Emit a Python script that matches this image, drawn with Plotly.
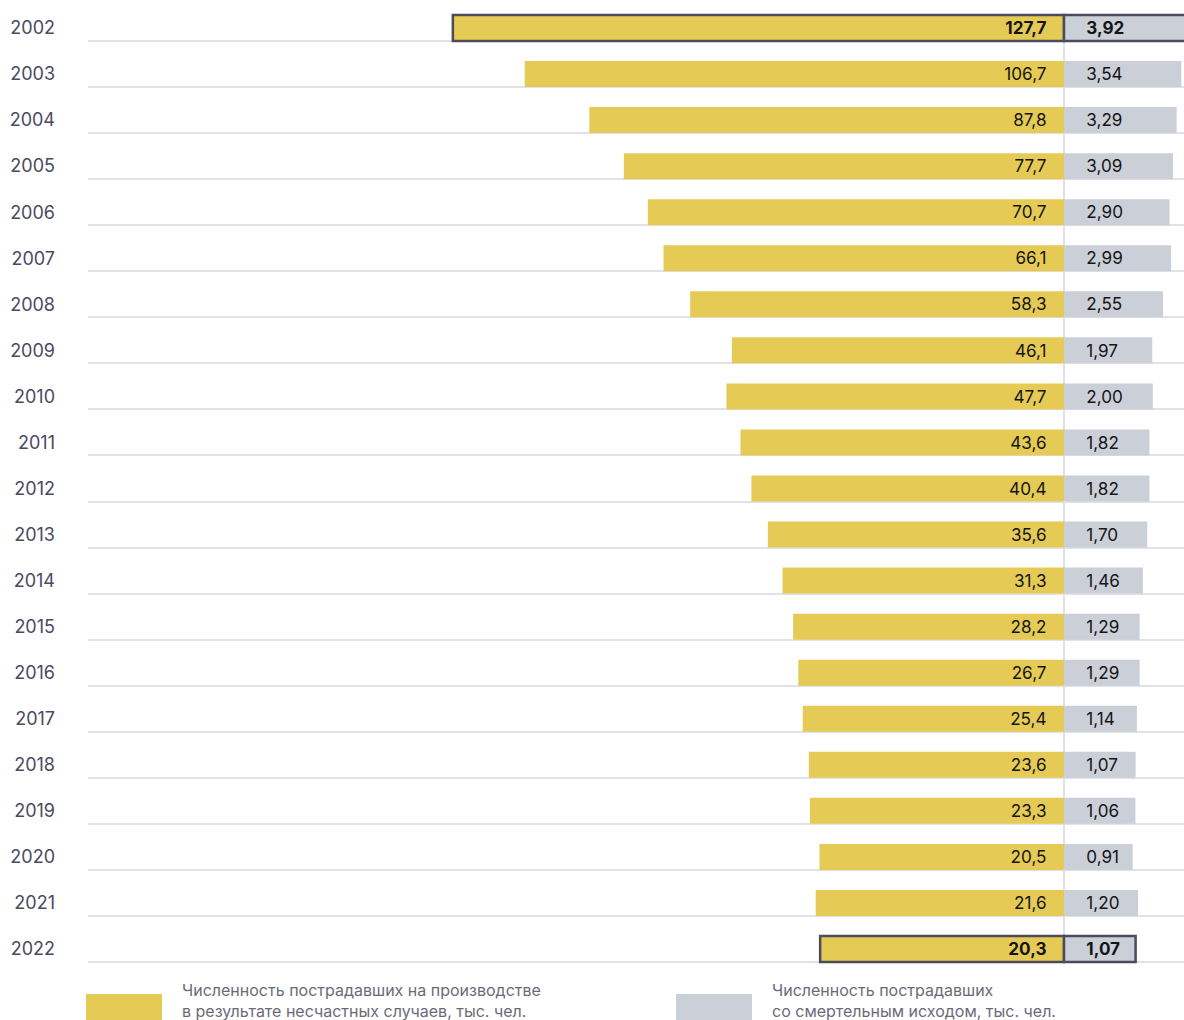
import plotly.graph_objects as go

years = [str(y) for y in range(2002, 2023)]
injured = [127.7, 106.7, 87.8, 77.7, 70.7, 66.1, 58.3, 46.1, 47.7, 43.6, 40.4,
           35.6, 31.3, 28.2, 26.7, 25.4, 23.6, 23.3, 20.5, 21.6, 20.3]
fatal = [3.92, 3.54, 3.29, 3.09, 2.90, 2.99, 2.55, 1.97, 2.00, 1.82, 1.82,
         1.70, 1.46, 1.29, 1.29, 1.14, 1.07, 1.06, 0.91, 1.20, 1.07]
highlight = ["2002", "2022"]

legend_injured = "Численность пострадавших на производстве<br>в результате несчастных случаев, тыс. чел."
legend_fatal = "Численность пострадавших<br>со смертельным исходом, тыс. чел."

W, H = 1184, 1020
FONT = "Inter"
YELLOW = "#E5CB55"
GREY = "#CBCFD8"
BORDER = "#4B4B5C"

# visual base offsets (bars grow away from a common divider, as in the original infographic)
base_inj = -51
base_fat = -2.8
k_inj = 3.42   # px per unit
k_fat = 18.5
x_left_px, x_div_px, x_right_px = 88, 1064, 1184

range_inj = [base_inj + (x_div_px - x_left_px) / k_inj, base_inj - (x_right_px - x_div_px) / k_inj]
range_fat = [base_fat - (x_div_px - x_left_px) / k_fat, base_fat + (x_right_px - x_div_px) / k_fat]

def fmt(v, d, b):
    s = f"{v:.{d}f}".replace(".", ",")
    return f"<b>{s}</b>" if b else s

bold = [y in highlight for y in years]
txt_inj = [fmt(v, 1, b) + "\u00a0\u00a0\u00a0" for v, b in zip(injured, bold)]
txt_fat = ["\u00a0\u00a0\u00a0\u00a0" + fmt(v, 2, b) for v, b in zip(fatal, bold)]
lw = [2.5 if b else 0 for b in bold]

bar_w = 26 / 46.05

fig = go.Figure()
fig.add_trace(go.Bar(
    y=years, x=[v - base_inj for v in injured], base=base_inj, orientation="h",
    xaxis="x", yaxis="y", width=bar_w, offset=-bar_w,
    marker=dict(color=YELLOW, line=dict(color=BORDER, width=lw)),
    text=txt_inj, textposition="inside", insidetextanchor="start",
    textfont=dict(family=FONT, size=18, color="#151515"), textangle=0,
    showlegend=False, hoverinfo="skip", cliponaxis=False,
))
fig.add_trace(go.Bar(
    y=years, x=[v - base_fat for v in fatal], base=base_fat, orientation="h",
    xaxis="x2", yaxis="y", width=bar_w, offset=-bar_w,
    marker=dict(color=GREY, line=dict(color=BORDER, width=lw)),
    text=txt_fat, textposition="inside", insidetextanchor="start",
    textfont=dict(family=FONT, size=18, color="#151515"), textangle=0,
    showlegend=False, hoverinfo="skip",
))

pitch = 46.05
y_top = -41 / pitch
y_bot = (H - 41) / pitch

dom = [x_left_px / W, 1]
fig.update_layout(
    width=W, height=H,
    margin=dict(l=0, r=0, t=0, b=0),
    paper_bgcolor="white", plot_bgcolor="white",
    barmode="overlay",
    xaxis=dict(domain=dom, range=range_inj, visible=False, fixedrange=True),
    xaxis2=dict(domain=dom, range=range_fat, overlaying="x", visible=False, fixedrange=True),
    yaxis=dict(type="category", range=[y_bot, y_top], showgrid=True,
               gridcolor="#E1E1E7", gridwidth=1.5, zeroline=False, showline=False,
               ticks="", ticklabelstandoff=32, ticklabelshift=13, fixedrange=True,
               tickfont=dict(family=FONT, size=18, color="#4A4A60")),
    font=dict(family=FONT),
)

# divider line
fig.add_shape(type="line", xref="x", yref="y", x0=base_inj, x1=base_inj,
              y0=-bar_w, y1=len(years) - 1, line=dict(color="#D3D7E6", width=1.5), layer="below")

# custom legend
def px(xp): return xp / W
def py(yp): return 1 - yp / H

fig.add_shape(type="rect", xref="paper", yref="paper", x0=px(86), x1=px(162), y0=py(1020), y1=py(994),
              fillcolor=YELLOW, line=dict(width=0))
fig.add_shape(type="rect", xref="paper", yref="paper", x0=px(676), x1=px(752), y0=py(1020), y1=py(994),
              fillcolor=GREY, line=dict(width=0))
fig.add_annotation(xref="paper", yref="paper", x=px(180), y=py(978), xanchor="left", yanchor="top",
                   text=legend_injured, showarrow=False, align="left",
                   font=dict(family=FONT, size=16, color="#6B6B78"))
fig.add_annotation(xref="paper", yref="paper", x=px(770), y=py(978), xanchor="left", yanchor="top",
                   text=legend_fatal, showarrow=False, align="left",
                   font=dict(family=FONT, size=16, color="#6B6B78"))

fig.write_html("out.html", config={"displayModeBar": False},
               post_script="document.body.style.margin='0';")
